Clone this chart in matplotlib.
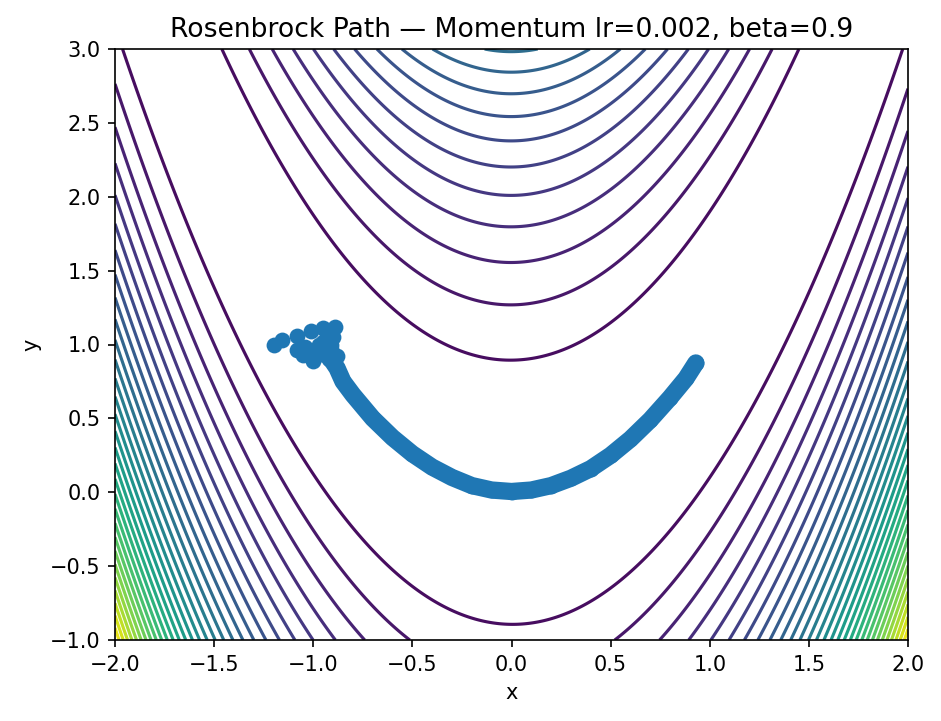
import numpy as np
import matplotlib
matplotlib.use("Agg")
import matplotlib.pyplot as plt

# Grid extent for the Rosenbrock surface
x_range = (-2.0, 2.0)
y_range = (-1.0, 3.0)
n_levels = 32

# Early (oscillating) optimizer steps
start_x = [-1.20, -1.16, -1.08, -1.08, -1.01, -1.00, -0.95, -0.94, -0.89, -0.91,
           -0.97, -0.96, -1.04, -0.93, -0.93, -0.90, -0.92, -0.88, -1.05, -0.98,
           -0.95, -0.91]
start_y = [1.00, 1.03, 1.06, 0.96, 1.09, 0.89, 1.11, 0.93, 1.12, 1.00,
           1.00, 0.95, 0.98, 0.95, 1.05, 1.05, 0.90, 0.92, 0.93, 0.93,
           1.02, 0.97]

# Later optimizer path along the valley
path_x = [-0.93, -0.90, -0.88, -0.85, -0.80, -0.75, -0.70, -0.60, -0.50, -0.40,
          -0.30, -0.20, -0.10, 0.00, 0.10, 0.20, 0.30, 0.40, 0.50, 0.60,
          0.70, 0.80, 0.88, 0.93]
path_y = [0.95, 0.88, 0.84, 0.75, 0.66, 0.58, 0.50, 0.37, 0.26, 0.17,
          0.10, 0.045, 0.015, 0.005, 0.015, 0.045, 0.095, 0.16, 0.25, 0.36,
          0.49, 0.64, 0.77, 0.875]


def rosenbrock(x, y):
    return (1 - x) ** 2 + 100 * (y - x ** 2) ** 2


xs = np.linspace(*x_range, 400)
ys = np.linspace(*y_range, 400)
X, Y = np.meshgrid(xs, ys)
Z = rosenbrock(X, Y)
levels = np.linspace(Z.min(), Z.max(), n_levels)

W, H, DPI = 941, 721, 150
fig = plt.figure(figsize=(W / DPI, H / DPI), dpi=DPI)
ax = fig.add_axes([115 / W, (H - 640) / H, (908 - 115) / W, (640 - 49) / H])

ax.contour(X, Y, Z, levels=levels, cmap="viridis", linewidths=1.5)

ms = 7.6
ax.plot(path_x, path_y, color="#1f77b4", linewidth=8.3,
        solid_capstyle="round", solid_joinstyle="round")
ax.plot(path_x, path_y, "o", color="#1f77b4", markersize=ms, markeredgewidth=0)
ax.plot(start_x, start_y, "o", color="#1f77b4", markersize=ms, markeredgewidth=0)

ax.set_xlim(*x_range)
ax.set_ylim(*y_range)
ax.set_xlabel("x")
ax.set_ylabel("y")
ax.set_title("Rosenbrock Path \u2014 Momentum lr=0.002, beta=0.9", fontsize=12.8)

fig.savefig("out.png", dpi=DPI)
